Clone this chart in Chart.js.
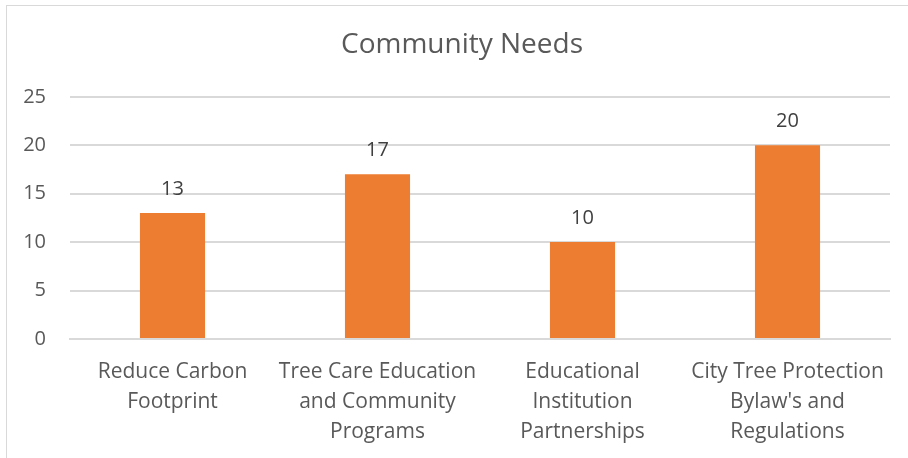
<!DOCTYPE html>
<html>
<head>
<meta charset="utf-8">
<script src="https://cdn.jsdelivr.net/npm/chart.js@4.4.1/dist/chart.umd.min.js"></script>
<style>
  html, body { margin: 0; padding: 0; background: #fff; overflow: hidden; }
  .frame {
    position: absolute; left: 6px; top: 5px; width: 1000px; height: 1000px;
    border: 1px solid #d9d9d9; box-sizing: border-box;
  }
  .wrap { position: absolute; left: 0; top: 0; width: 908px; height: 458px; }
</style>
</head>
<body>
<div class="frame"></div>
<div class="wrap"><canvas id="needsChart"></canvas></div>
<script>
const categories = [
  ['Reduce Carbon', 'Footprint'],
  ['Tree Care Education', 'and Community', 'Programs'],
  ['Educational', 'Institution', 'Partnerships'],
  ['City Tree Protection', "Bylaw's and", 'Regulations']
];
const needCounts = [13, 17, 10, 20];
const yTicks = [0, 5, 10, 15, 20, 25];

const fontName = '"Open Sans", sans-serif';

// draws the value above each bar
const barValues = {
  id: 'barValues',
  afterLayout(chart) {
    // the original title sits centred on a slightly wider frame
    if (chart.titleBlock) chart.titleBlock.left = 34;
  },
  afterDatasetsDraw(chart) {
    const ctx = chart.ctx;
    const meta = chart.getDatasetMeta(0);
    ctx.save();
    ctx.font = '20px ' + fontName;
    ctx.fillStyle = '#404040';
    ctx.textAlign = 'center';
    ctx.textBaseline = 'middle';
    meta.data.forEach((bar, i) => {
      ctx.fillText(needCounts[i], bar.x, bar.y - 24);
    });
    ctx.restore();
  }
};

document.addEventListener('DOMContentLoaded', () => {
  const canvas = document.getElementById('needsChart');
  new Chart(canvas, {
    type: 'bar',
    data: {
      labels: categories,
      datasets: [{
        data: needCounts,
        backgroundColor: '#ED7D31',
        barPercentage: 0.635,
        categoryPercentage: 0.5,
      }],
    },
    options: {
      responsive: true,
      maintainAspectRatio: false,
      animation: false,
      layout: { padding: { top: 0, right: 18, bottom: 0, left: 0 } },
      plugins: {
        legend: { display: false },
        tooltip: { enabled: false },
        title: {
          display: true,
          text: 'Community Needs',
          color: '#595959',
          font: { family: fontName, size: 28, weight: 'normal', lineHeight: 1.1 },
          padding: { top: 30, bottom: 36 },
        },
      },
      scales: {
        x: {
          grid: { display: false, drawTicks: false },
          border: { color: '#d9d9d9', width: 2 },
          ticks: {
            color: '#595959',
            font: { family: fontName, size: 21, lineHeight: 1.43 },
            padding: 18,
            maxRotation: 0,
            autoSkip: false,
          },
          afterFit: (s) => { s.height = 119; },
        },
        y: {
          min: 0,
          max: 25,
          afterBuildTicks: (s) => { s.ticks = yTicks.map(v => ({ value: v })); },
          grid: { color: '#d9d9d9', lineWidth: 2, drawTicks: false },
          border: { display: false },
          ticks: {
            color: '#595959',
            font: { family: fontName, size: 20 },
            padding: 24,
          },
          afterFit: (s) => { s.width = 70; },
        },
      },
    },
    plugins: [barValues],
  });
});
</script>
</body>
</html>
